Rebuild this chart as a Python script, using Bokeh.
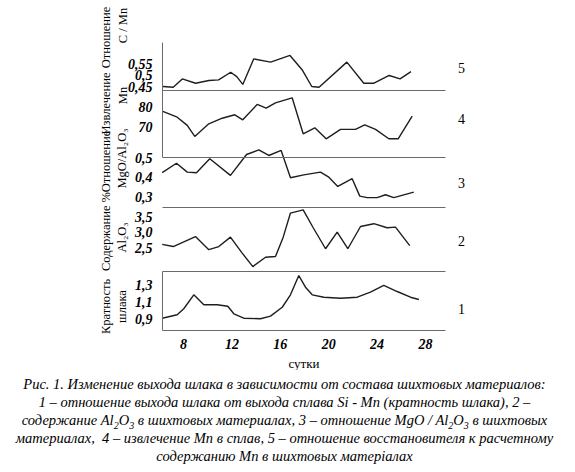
from bokeh.plotting import figure
from bokeh.models import Range1d, LinearAxis, FixedTicker, Label, Div
from bokeh.layouts import column
from bokeh.embed import file_html
from bokeh.resources import INLINE

# ---------------- data ----------------
# 5 - C / Mn ratio
days_cmn = [6.3, 7.15, 7.9, 9.0, 10.1, 10.9, 11.9, 12.4, 12.9, 13.8, 15.2, 16.8,
            17.8, 18.6, 19.2, 21.5, 22.9, 23.7, 25.0, 25.9, 26.8]
c_mn = [0.450, 0.447, 0.483, 0.464, 0.476, 0.479, 0.512, 0.493, 0.459, 0.570, 0.556,
        0.585, 0.523, 0.450, 0.447, 0.556, 0.464, 0.464, 0.498, 0.483, 0.515]

# 4 - Mn extraction, %
days_mn = [6.29, 7.48, 8.31, 8.93, 10.09, 11.2, 12.24, 12.9, 14.09, 14.83, 15.6,
           16.98, 17.89, 18.85, 19.79, 20.98, 22.21, 22.98, 23.87, 24.97, 25.74, 26.9]
mn_extr = [77.9, 75.0, 70.9, 65.4, 71.7, 74.5, 76.2, 73.7, 81.4, 79.5, 82.2,
           84.7, 66.7, 69.7, 64.2, 68.9, 68.9, 71.2, 68.9, 64.2, 64.2, 75.5]

# 3 - MgO / Al2O3 ratio
days_mgo = [6.24, 7.42, 8.31, 9.07, 10.17, 11.88, 13.21, 14.22, 15.05, 16.07, 16.84,
            17.94, 19.32, 20.01, 20.75, 21.94, 22.57, 23.18, 24.01, 24.69, 25.38, 27.03]
mgo_al = [0.423, 0.472, 0.426, 0.423, 0.495, 0.409, 0.517, 0.541, 0.512, 0.538, 0.397,
          0.412, 0.426, 0.400, 0.352, 0.392, 0.302, 0.294, 0.294, 0.309, 0.294, 0.323]

# 2 - Al2O3 content, %
days_al = [6.24, 7.15, 7.98, 8.99, 10.09, 10.92, 11.88, 12.85, 13.73, 14.78, 15.6, 16.24,
           16.84, 17.89, 18.72, 19.74, 20.7, 21.58, 22.63, 23.73, 24.83, 25.52, 26.7]
al2o3 = [2.61, 2.54, 2.68, 2.86, 2.44, 2.54, 2.84, 2.33, 1.90, 2.20, 2.22, 2.84,
         3.61, 3.71, 3.14, 2.47, 3.00, 2.47, 3.18, 3.27, 3.14, 3.16, 2.57]

# 1 - slag ratio
days_slag = [6.24, 7.48, 8.02, 8.85, 9.68, 10.79, 11.66, 12.16, 12.98, 14.36, 15.19, 16.16,
             16.84, 17.53, 18.08, 18.64, 19.6, 20.98, 22.36, 23.45, 24.55, 25.66, 26.76, 27.45]
slag = [0.907, 0.947, 1.018, 1.182, 1.065, 1.065, 1.048, 0.959, 0.907, 0.900, 0.931, 1.036,
        1.182, 1.409, 1.272, 1.182, 1.154, 1.142, 1.154, 1.213, 1.292, 1.221, 1.154, 1.127]

x_ticks = [8, 12, 16, 20, 24, 28]
ticks_cmn = [0.45, 0.5, 0.55]
labels_cmn = ["0,45", "0,5", "0,55"]
ticks_mn = [70, 80]
labels_mn = ["70", "80"]
ticks_mgo = [0.3, 0.4, 0.5]
labels_mgo = ["0,3", "0,4", "0,5"]
ticks_al = [2.5, 3.0, 3.5]
labels_al = ["2,5", "3,0", "3,5"]
ticks_slag = [0.9, 1.1, 1.3]
labels_slag = ["0,9", "1,1", "1,3"]

# ---------------- layout / style ----------------
FONT = "Liberation Serif"
LINE = "#1e1e1e"
RULE = "#6a6a6a"
OFF = 0                      # canvas origin in picture pixels
W, H = 559, 370
TOP, BOT = 42, 330           # plotting area top/bottom in picture pixels
LEFT, RIGHT = 162, 445       # plotting area left/right in picture pixels


def px_to_day(px):
    return 8 + (px - 183) / 12.1


x_start, x_end = px_to_day(LEFT), px_to_day(RIGHT)

panels = [
    # name, days, values, ticks, labels, (v_a, px_a, v_b, px_b), band(px), show_axis, number, number_y
    ("s5", days_cmn, c_mn, ticks_cmn, labels_cmn, (0.45, 86, 0.55, 63), (42, 90), True, "5", 67),
    ("s4", days_mn, mn_extr, ticks_mn, labels_mn, (80, 106.7, 70, 126.7), (90, 157), True, "4", 118),
    ("s3", days_mgo, mgo_al, ticks_mgo, labels_mgo, (0.5, 157.3, 0.3, 196), (157, 207), False, "3", 182),
    ("s2", days_al, al2o3, ticks_al, labels_al, (3.5, 216, 2.5, 247.3), (207, 271), False, "2", 240),
    ("s1", days_slag, slag, ticks_slag, labels_slag, (1.3, 284.3, 0.9, 318.3), (271, 330), True, "1", 308),
]


def v_at(cal, y):
    a, ya, b, yb = cal
    return a + (y - ya) * (b - a) / (yb - ya)


p = figure(width=W, height=H, output_backend="svg", toolbar_location=None,
           x_range=Range1d(px_to_day(OFF), px_to_day(W + OFF)),
           y_range=Range1d(H + OFF, OFF),
           x_axis_location=None, y_axis_location=None,
           min_border=0, min_border_left=0, min_border_right=0,
           min_border_top=0, min_border_bottom=0)
p.extra_x_ranges = {"px": Range1d(OFF, W + OFF)}
p.extra_y_ranges = {name: Range1d(v_at(cal, H + OFF), v_at(cal, OFF))
                    for name, d, v, tk, lb, cal, band, show, num, num_y in panels}
p.outline_line_color = None
p.grid.visible = False
p.background_fill_color = "white"
p.border_fill_color = "white"


def style_ticks(ax):
    ax.major_tick_line_color = None
    ax.minor_tick_line_color = None
    ax.major_label_text_font = FONT
    ax.major_label_text_font_style = "bold italic"
    ax.major_label_text_font_size = "14px"
    ax.major_label_text_color = "black"


for name, d, v, tk, lb, cal, band, show, num, num_y in panels:
    p.line(d, v, y_range_name=name, line_color=LINE, line_width=1.4)
    ax = LinearAxis(y_range_name=name, fixed_location=x_start,
                    ticker=FixedTicker(ticks=tk),
                    major_label_overrides={t: l for t, l in zip(tk, lb)})
    style_ticks(ax)
    ax.major_label_standoff = 4
    if show:
        ax.axis_line_color = RULE
        ax.bounds = (v_at(cal, band[1]), v_at(cal, band[0]))
    else:
        ax.axis_line_color = None
    p.add_layout(ax, "left")
    # separator / baseline under each panel
    if band[1] < BOT:
        sep = LinearAxis(fixed_location=band[1], ticker=FixedTicker(ticks=[]),
                         bounds=(x_start, x_end))
        sep.axis_line_color = RULE
        sep.major_tick_line_color = None
        sep.minor_tick_line_color = None
        p.add_layout(sep, "below")
    p.add_layout(Label(x=461, y=num_y, x_range_name="px", text=num, text_align="center",
                       text_baseline="middle", text_font=FONT, text_font_size="14px",
                       text_color="black"))

# x axis (days)
xa = LinearAxis(fixed_location=BOT, ticker=FixedTicker(ticks=x_ticks), bounds=(x_start, x_end))
style_ticks(xa)
xa.axis_line_color = RULE
xa.major_label_standoff = 2
xa.axis_label = "сутки"
xa.axis_label_standoff = 4
xa.axis_label_text_font = FONT
xa.axis_label_text_font_style = "normal"
xa.axis_label_text_font_size = "13px"
xa.axis_label_text_color = "black"
p.add_layout(xa, "below")

# rotated panel titles (x, y in picture pixels)
titles = [
    ("Отношение", 105, 37), ("C / Mn", 122, 25),
    ("Извлечение", 105, 103), ("Mn", 122, 95),
    ("Отношение", 105, 161), ("MgO/Al₂O₃", 121, 158),
    ("Содержание %", 105, 231), ("Al₂O₃", 121, 237),
    ("Кратность", 105, 306), ("шлака", 121, 306),
]
for t, tx, ty in titles:
    p.add_layout(Label(x=tx, y=ty, x_range_name="px", text=t, angle=90, angle_units="deg",
                       text_align="center", text_baseline="middle", text_font=FONT,
                       text_font_size="12.5px", text_color="black"))

sub = '<sub style="font-size:10px;line-height:0">'
caption = Div(
    text=("Рис. 1. Изменение выхода шлака в зависимости от состава шихтовых материалов:<br>"
          "1 – отношение выхода шлака от выхода сплава Si - Mn (кратность шлака), 2 –<br>"
          f"содержание Al{sub}2</sub>O{sub}3</sub> в шихтовых материалах, 3 – отношение MgO / "
          f"Al{sub}2</sub>O{sub}3</sub> в шихтовых<br>"
          "материалах,&nbsp; 4 – извлечение Mn в сплав, 5 – отношение восстановителя к расчетному<br>"
          "содержанию Mn в шихтовых матеріалах"),
    width=W,
    styles={"font-family": "'Liberation Serif', serif", "font-style": "italic",
            "font-size": "14.5px", "line-height": "18px", "text-align": "center",
            "white-space": "nowrap", "color": "black"},
)

layout = column(p, caption)
open("out.html", "w").write(file_html(layout, INLINE))
